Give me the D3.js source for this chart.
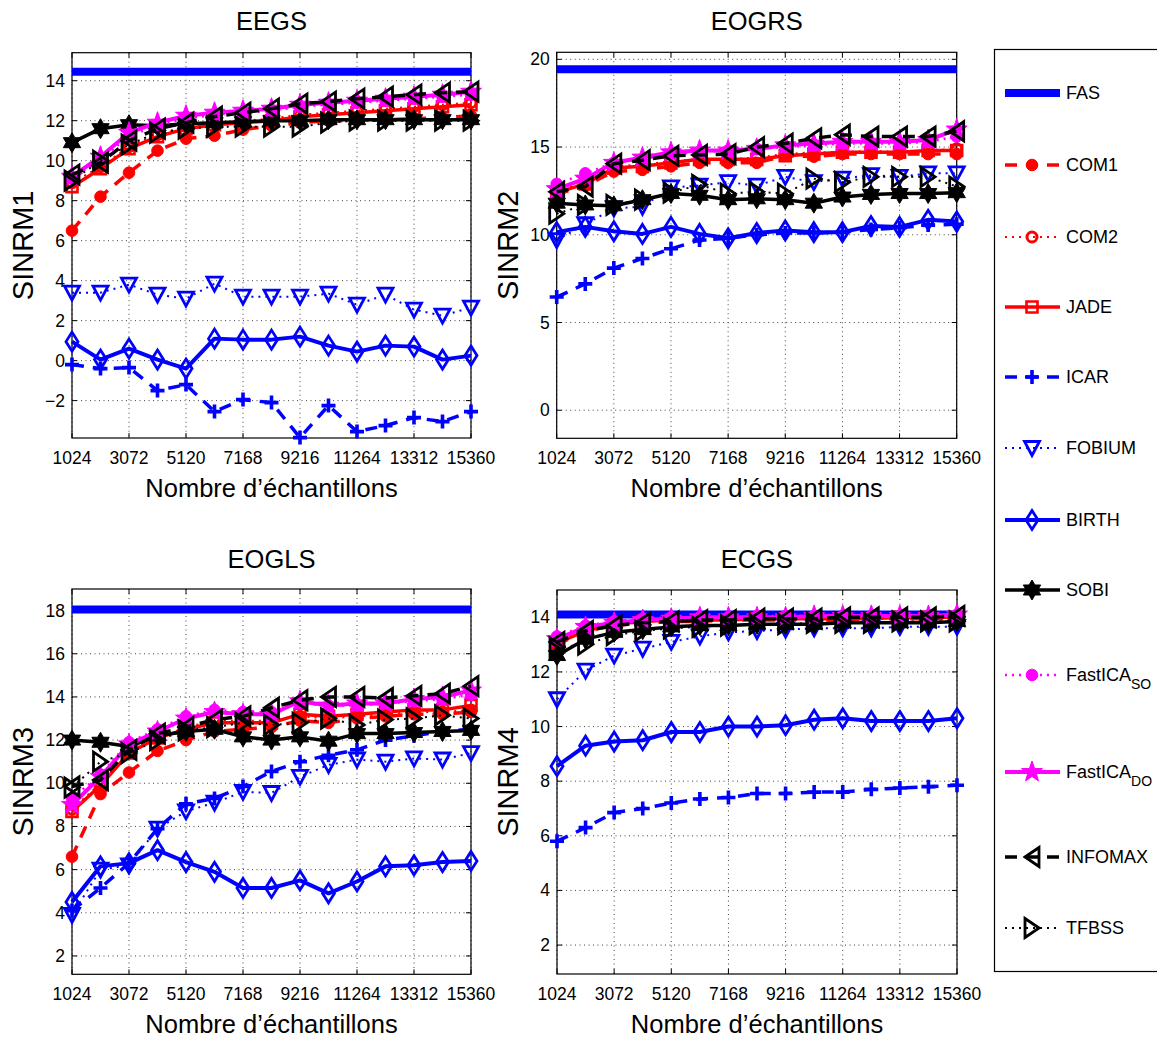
<!DOCTYPE html>
<html>
<head>
<meta charset="utf-8">
<script src="https://cdn.jsdelivr.net/npm/d3@7"></script>
<style>
  body { margin: 0; background: #fff; }
  text { font-family: "Liberation Sans", Arial, sans-serif; fill: #000; }
</style>
</head>
<body>
<svg width="1157" height="1038"></svg>
<script>
// sample sizes (x) and tick labels
const sampleSizes = [1024, 2048, 3072, 4096, 5120, 6144, 7168, 8192, 9216, 10240, 11264, 12288, 13312, 14336, 15360];
const xTicks = [1024, 3072, 5120, 7168, 9216, 11264, 13312, 15360];

const methods = ['COM1', 'COM2', 'JADE', 'ICAR', 'FOBIUM', 'BIRTH', 'SOBI', 'FastICA_SO', 'FastICA_DO', 'INFOMAX', 'TFBSS'];

// FAS reference level per panel (EEGS, EOGRS, EOGLS, ECGS)
const fasLevels = [14.45, 19.43, 18.05, 14.1];

// one row per method, same order as `methods`
const eegsValues = [
  [6.5, 8.2, 9.4, 10.5, 11.1, 11.25, 11.55, 11.75, 11.9, 12.0, 12.0, 12.05, 12.1, 12.15, 12.25],
  [8.9, 9.7, 10.7, 11.3, 11.7, 11.9, 12.0, 12.1, 12.3, 12.4, 12.5, 12.6, 12.7, 12.8, 12.9],
  [8.7, 9.6, 10.6, 11.2, 11.6, 11.8, 11.9, 12.0, 12.2, 12.3, 12.4, 12.5, 12.6, 12.7, 12.8],
  [-0.2, -0.4, -0.35, -1.5, -1.2, -2.55, -1.95, -2.1, -3.85, -2.25, -3.55, -3.25, -2.85, -3.05, -2.55],
  [3.4, 3.4, 3.8, 3.3, 3.1, 3.85, 3.2, 3.2, 3.2, 3.35, 2.8, 3.3, 2.55, 2.25, 2.65],
  [0.95, 0.05, 0.6, 0.05, -0.4, 1.1, 1.05, 1.05, 1.2, 0.75, 0.45, 0.75, 0.7, 0.05, 0.25],
  [10.9, 11.6, 11.8, 11.75, 11.85, 11.9, 11.95, 12.0, 12.0, 12.05, 12.05, 12.05, 12.05, 12.05, 12.05],
  [9.1, 10.1, 11.2, 11.8, 12.1, 12.3, 12.4, 12.5, 12.7, 12.8, 12.9, 13.0, 13.1, 13.2, 13.3],
  [9.2, 10.2, 11.4, 11.9, 12.25, 12.4, 12.5, 12.6, 12.8, 12.9, 13.0, 13.1, 13.2, 13.3, 13.45],
  [9.3, 9.9, 11.0, 11.6, 11.9, 12.2, 12.4, 12.6, 12.85, 12.95, 13.1, 13.2, 13.3, 13.4, 13.45],
  [9.0, 10.0, 10.8, 11.4, 11.6, 11.7, 11.7, 11.7, 11.7, 11.9, 12.0, 12.0, 12.0, 12.0, 12.0]
];

const eogrsValues = [
  [12.3, 12.8, 13.6, 13.7, 13.9, 14.1, 14.1, 14.1, 14.5, 14.45, 14.6, 14.6, 14.6, 14.6, 14.6],
  [12.5, 13.0, 13.9, 14.0, 14.2, 14.3, 14.3, 14.4, 14.6, 14.7, 14.7, 14.8, 14.7, 14.8, 14.9],
  [12.4, 12.9, 13.8, 13.9, 14.1, 14.3, 14.3, 14.3, 14.5, 14.6, 14.7, 14.7, 14.7, 14.8, 14.8],
  [6.45, 7.2, 8.1, 8.65, 9.2, 9.7, 9.8, 10.0, 10.1, 10.1, 10.15, 10.3, 10.4, 10.55, 10.6],
  [9.7, 10.6, 11.5, 11.6, 12.7, 12.8, 13.0, 12.8, 13.3, 13.0, 13.2, 13.4, 13.3, 13.5, 13.5],
  [10.15, 10.45, 10.2, 10.05, 10.45, 10.05, 9.8, 10.1, 10.25, 10.15, 10.15, 10.5, 10.45, 10.85, 10.75],
  [11.8, 11.7, 11.65, 12.0, 12.35, 12.25, 12.0, 12.05, 12.0, 11.8, 12.15, 12.3, 12.35, 12.35, 12.4],
  [12.9, 13.5, 14.1, 14.3, 14.6, 14.7, 14.8, 14.9, 15.0, 15.1, 15.2, 15.2, 15.2, 15.3, 15.6],
  [12.6, 13.2, 14.1, 14.4, 14.7, 14.8, 14.8, 14.9, 15.1, 15.2, 15.3, 15.3, 15.3, 15.4, 16.0],
  [12.45, 12.75, 14.05, 14.25, 14.5, 14.55, 14.6, 15.0, 15.2, 15.5, 15.7, 15.6, 15.6, 15.6, 15.9],
  [11.2, 11.7, 11.7, 12.0, 12.4, 12.85, 12.35, 12.45, 12.35, 13.2, 13.0, 13.3, 13.3, 13.3, 12.75]
];

const eoglsValues = [
  [6.6, 9.5, 10.5, 11.5, 12.0, 12.4, 12.5, 12.6, 12.9, 12.8, 13.0, 13.1, 13.2, 13.2, 13.3],
  [8.8, 10.0, 11.5, 12.1, 12.6, 12.9, 12.9, 12.9, 13.1, 13.0, 13.1, 13.2, 13.3, 13.3, 13.4],
  [8.7, 9.9, 11.4, 12.1, 12.5, 12.8, 12.8, 12.8, 13.2, 13.1, 13.2, 13.3, 13.4, 13.4, 13.6],
  [4.1, 5.15, 6.3, 7.9, 9.05, 9.3, 9.85, 10.55, 11.0, 11.3, 11.55, 12.0, 12.2, 12.4, 12.5],
  [3.9, 6.0, 6.2, 7.9, 8.7, 9.1, 9.6, 9.55, 10.3, 10.85, 11.1, 11.0, 11.15, 11.1, 11.4],
  [4.5, 6.15, 6.3, 6.9, 6.35, 5.9, 5.15, 5.15, 5.5, 4.9, 5.45, 6.15, 6.2, 6.35, 6.4],
  [12.0, 11.9, 11.7, 12.2, 12.4, 12.5, 12.15, 12.0, 12.15, 11.95, 12.3, 12.3, 12.35, 12.4, 12.45],
  [9.3, 10.4, 11.9, 12.5, 13.1, 13.4, 13.3, 13.3, 13.7, 13.6, 13.6, 13.7, 13.8, 13.9, 14.1],
  [9.0, 10.3, 11.8, 12.4, 13.0, 13.3, 13.2, 13.2, 13.8, 13.6, 13.7, 13.7, 13.9, 14.0, 14.3],
  [9.85, 10.15, 11.55, 12.3, 12.6, 12.95, 13.1, 13.5, 13.85, 14.0, 14.0, 13.95, 14.05, 14.15, 14.5],
  [9.8, 11.0, 11.4, 12.0, 12.45, 12.6, 12.8, 12.7, 12.8, 13.0, 12.7, 12.95, 13.0, 13.15, 13.0]
];

const ecgsValues = [
  [13.0, 13.5, 13.7, 13.8, 13.85, 13.85, 13.9, 13.9, 13.9, 13.9, 13.9, 13.95, 13.95, 13.95, 13.95],
  [13.1, 13.55, 13.75, 13.85, 13.9, 13.9, 13.95, 13.95, 13.95, 13.95, 13.95, 14.0, 14.0, 14.0, 14.0],
  [13.05, 13.5, 13.75, 13.85, 13.9, 13.9, 13.9, 13.95, 13.95, 13.95, 13.95, 13.95, 14.0, 14.0, 14.0],
  [5.8, 6.3, 6.85, 7.0, 7.2, 7.35, 7.4, 7.55, 7.55, 7.6, 7.6, 7.7, 7.75, 7.8, 7.85],
  [11.0, 12.05, 12.6, 12.85, 13.1, 13.3, 13.45, 13.5, 13.55, 13.6, 13.6, 13.6, 13.65, 13.65, 13.65],
  [8.55, 9.3, 9.45, 9.5, 9.8, 9.8, 10.0, 10.0, 10.05, 10.25, 10.3, 10.2, 10.2, 10.2, 10.3],
  [12.6, 13.2, 13.45, 13.55, 13.65, 13.7, 13.7, 13.75, 13.75, 13.75, 13.8, 13.8, 13.8, 13.8, 13.85],
  [13.3, 13.7, 13.85, 13.95, 14.0, 14.0, 14.0, 14.05, 14.05, 14.05, 14.05, 14.05, 14.05, 14.05, 14.1],
  [13.2, 13.65, 13.8, 13.9, 13.95, 14.0, 14.0, 14.0, 14.0, 14.05, 14.05, 14.05, 14.05, 14.05, 14.1],
  [13.1, 13.5, 13.7, 13.8, 13.85, 13.9, 13.9, 13.95, 13.95, 13.95, 14.0, 14.0, 14.0, 14.0, 14.05],
  [12.9, 13.0, 13.35, 13.5, 13.6, 13.65, 13.7, 13.75, 13.75, 13.8, 13.8, 13.8, 13.85, 13.85, 13.85]
];

const eegsTicks = [-2, 0, 2, 4, 6, 8, 10, 12, 14];
const eogrsTicks = [0, 5, 10, 15, 20];
const eoglsTicks = [2, 4, 6, 8, 10, 12, 14, 16, 18];
const ecgsTicks = [2, 4, 6, 8, 10, 12, 14];

// marker shapes
function polyPath(pts) { return 'M' + pts.map(p => p[0].toFixed(2) + ',' + p[1].toFixed(2)).join('L') + 'Z'; }
function starPath(n, R, r) {
  const pts = [];
  for (let k = 0; k < 2 * n; k++) {
    const a = -Math.PI / 2 + k * Math.PI / n;
    const rad = k % 2 === 0 ? R : r;
    pts.push([rad * Math.cos(a), rad * Math.sin(a)]);
  }
  return polyPath(pts);
}
const circlePath = r => `M${-r},0A${r},${r} 0 1,0 ${r},0A${r},${r} 0 1,0 ${-r},0Z`;
const markers = {
  filledCircle: { d: circlePath(5.8), fill: true },
  openCircle: { d: circlePath(5), fill: false, sw: 3 },
  square: { d: polyPath([[-5.5, -5.5], [5.5, -5.5], [5.5, 5.5], [-5.5, 5.5]]), fill: false, sw: 2.6 },
  plus: { d: 'M-7,0H7M0,-7V7', fill: false, sw: 3.6 },
  downTri: { d: polyPath([[0, 7.5], [-7.5, -6.5], [7.5, -6.5]]), fill: false, sw: 2.8 },
  diamond: { d: polyPath([[0, -9.5], [6, 0], [0, 9.5], [-6, 0]]), fill: false, sw: 2.8 },
  hexagram: { d: starPath(6, 10, 5.8), fill: true },
  pentagram: { d: starPath(5, 11, 4.4), fill: true },
  leftTri: { d: polyPath([[-7, 0], [7, -9.5], [7, 9.5]]), fill: false, sw: 2.8 },
  rightTri: { d: polyPath([[7, 0], [-7, -9.5], [-7, 9.5]]), fill: false, sw: 2.8 }
};

const red = '#ff0000', blue = '#0000ff', black = '#000000', magenta = '#ff00ff';
const dashed = '12,9', dotted = '2,5';
const styles = {
  COM1: { color: red, width: 3.5, dash: dashed, marker: 'filledCircle' },
  COM2: { color: red, width: 2, dash: dotted, marker: 'openCircle' },
  JADE: { color: red, width: 3.5, dash: null, marker: 'square' },
  ICAR: { color: blue, width: 3.5, dash: dashed, marker: 'plus' },
  FOBIUM: { color: blue, width: 2, dash: dotted, marker: 'downTri' },
  BIRTH: { color: blue, width: 4, dash: null, marker: 'diamond' },
  SOBI: { color: black, width: 3.5, dash: null, marker: 'hexagram' },
  FastICA_SO: { color: magenta, width: 2.5, dash: dotted, marker: 'filledCircle' },
  FastICA_DO: { color: magenta, width: 4, dash: null, marker: 'pentagram' },
  INFOMAX: { color: black, width: 3.5, dash: dashed, marker: 'leftTri' },
  TFBSS: { color: black, width: 2, dash: dotted, marker: 'rightTri' }
};

const panels = [
  { title: 'EEGS', ylabel: 'SINRM1', values: eegsValues, fas: fasLevels[0], yDomain: [-3.87, 15.4], yTicks: eegsTicks, box: { l: 72, t: 52.7, r: 471, b: 438 }, titleY: 21 },
  { title: 'EOGRS', ylabel: 'SINRM2', values: eogrsValues, fas: fasLevels[1], yDomain: [-1.6, 20.4], yTicks: eogrsTicks, box: { l: 556.7, t: 52.3, r: 956.7, b: 438.3 }, titleY: 21 },
  { title: 'EOGLS', ylabel: 'SINRM3', values: eoglsValues, fas: fasLevels[2], yDomain: [1.15, 19.0], yTicks: eoglsTicks, box: { l: 72, t: 589, r: 471, b: 974.3 }, titleY: 559 },
  { title: 'ECGS', ylabel: 'SINRM4', values: ecgsValues, fas: fasLevels[3], yDomain: [0.94, 15.0], yTicks: ecgsTicks, box: { l: 557, t: 590, r: 957, b: 974 }, titleY: 559 }
];

const svg = d3.select('svg');

panels.forEach(p => {
  const b = p.box;
  const x = d3.scaleLinear().domain([1024, 15360]).range([b.l, b.r]);
  const y = d3.scaleLinear().domain(p.yDomain).range([b.b, b.t]);
  const g = svg.append('g');

  // grid
  const grid = g.append('g').attr('stroke', '#444').attr('stroke-width', 1).attr('stroke-dasharray', '1,3.5');
  grid.selectAll('.gx').data(xTicks).enter().append('line')
    .attr('x1', d => x(d)).attr('x2', d => x(d)).attr('y1', b.t).attr('y2', b.b);
  grid.selectAll('.gy').data(p.yTicks).enter().append('line')
    .attr('x1', b.l).attr('x2', b.r).attr('y1', d => y(d)).attr('y2', d => y(d));

  // frame and inward ticks
  g.append('rect').attr('x', b.l).attr('y', b.t).attr('width', b.r - b.l).attr('height', b.b - b.t)
    .attr('fill', 'none').attr('stroke', '#000').attr('stroke-width', 1.2);
  const tk = g.append('g').attr('stroke', '#000').attr('stroke-width', 1);
  xTicks.forEach(v => {
    tk.append('line').attr('x1', x(v)).attr('x2', x(v)).attr('y1', b.b).attr('y2', b.b - 5);
    tk.append('line').attr('x1', x(v)).attr('x2', x(v)).attr('y1', b.t).attr('y2', b.t + 5);
  });
  p.yTicks.forEach(v => {
    tk.append('line').attr('x1', b.l).attr('x2', b.l + 5).attr('y1', y(v)).attr('y2', y(v));
    tk.append('line').attr('x1', b.r).attr('x2', b.r - 5).attr('y1', y(v)).attr('y2', y(v));
  });

  // tick labels
  g.selectAll('.xl').data(xTicks).enter().append('text')
    .attr('x', d => x(d)).attr('y', b.b + 20).attr('text-anchor', 'middle')
    .attr('dominant-baseline', 'central').attr('font-size', 17.5).text(d => d);
  g.selectAll('.yl').data(p.yTicks).enter().append('text')
    .attr('x', b.l - 7).attr('y', d => y(d)).attr('text-anchor', 'end')
    .attr('dominant-baseline', 'central').attr('font-size', 17.5)
    .text(d => d < 0 ? '\u2212' + Math.abs(d) : d);

  // titles and axis labels
  g.append('text').attr('x', (b.l + b.r) / 2).attr('y', p.titleY).attr('text-anchor', 'middle')
    .attr('dominant-baseline', 'central').attr('font-size', 25.5).text(p.title);
  g.append('text').attr('x', (b.l + b.r) / 2).attr('y', b.b + 50).attr('text-anchor', 'middle')
    .attr('dominant-baseline', 'central').attr('font-size', 25.5).text('Nombre d\u2019\u00e9chantillons');
  g.append('text').attr('transform', `translate(${b.l - 49},${(b.t + b.b) / 2}) rotate(-90)`)
    .attr('text-anchor', 'middle').attr('dominant-baseline', 'central').attr('font-size', 29).text(p.ylabel);

  // FAS reference line
  g.append('line').attr('x1', x(1024)).attr('x2', x(15360)).attr('y1', y(p.fas)).attr('y2', y(p.fas))
    .attr('stroke', blue).attr('stroke-width', 8);

  // method series
  const line = d3.line().x((d, i) => x(sampleSizes[i])).y(d => y(d));
  methods.forEach((m, mi) => {
    const st = styles[m];
    const vals = p.values[mi];
    g.append('path').attr('d', line(vals)).attr('fill', 'none')
      .attr('stroke', st.color).attr('stroke-width', st.width)
      .attr('stroke-dasharray', st.dash).attr('stroke-linejoin', 'round');
    const mk = markers[st.marker];
    g.selectAll(null).data(vals).enter().append('path')
      .attr('transform', (d, i) => `translate(${x(sampleSizes[i])},${y(d)})`)
      .attr('d', mk.d)
      .attr('fill', mk.fill ? st.color : 'none')
      .attr('stroke', st.color)
      .attr('stroke-width', mk.fill ? 1 : mk.sw);
  });
});

// legend
const legendRows = [93, 165, 237, 307, 377, 448, 520, 590, 675, 772, 857, 928];
const legendLabels = [
  ['FAS'], ['COM1'], ['COM2'], ['JADE'], ['ICAR'], ['FOBIUM'], ['BIRTH'], ['SOBI'],
  ['FastICA', 'SO'], ['FastICA', 'DO'], ['INFOMAX'], ['TFBSS']
];
const lg = svg.append('g');
lg.append('rect').attr('x', 994.5).attr('y', 49.5).attr('width', 180).attr('height', 922)
  .attr('fill', '#fff').attr('stroke', '#000').attr('stroke-width', 1.2);
['FAS'].concat(methods).forEach((m, i) => {
  const yy = legendRows[i];
  if (m === 'FAS') {
    lg.append('line').attr('x1', 1005).attr('x2', 1060).attr('y1', yy).attr('y2', yy)
      .attr('stroke', blue).attr('stroke-width', 8);
  } else {
    const st = styles[m];
    lg.append('line').attr('x1', 1005).attr('x2', 1060).attr('y1', yy).attr('y2', yy)
      .attr('stroke', st.color).attr('stroke-width', st.width).attr('stroke-dasharray', st.dash);
    const mk = markers[st.marker];
    lg.append('path').attr('transform', `translate(1032,${yy})`).attr('d', mk.d)
      .attr('fill', mk.fill ? st.color : 'none').attr('stroke', st.color)
      .attr('stroke-width', mk.fill ? 1 : mk.sw);
  }
  const lab = legendLabels[i];
  const t = lg.append('text').attr('x', 1066).attr('y', yy).attr('dominant-baseline', 'central')
    .attr('font-size', 18).text(lab[0]);
  if (lab[1]) {
    t.append('tspan').attr('dy', 9).attr('font-size', 14).text(lab[1]);
  }
});
</script>
</body>
</html>
